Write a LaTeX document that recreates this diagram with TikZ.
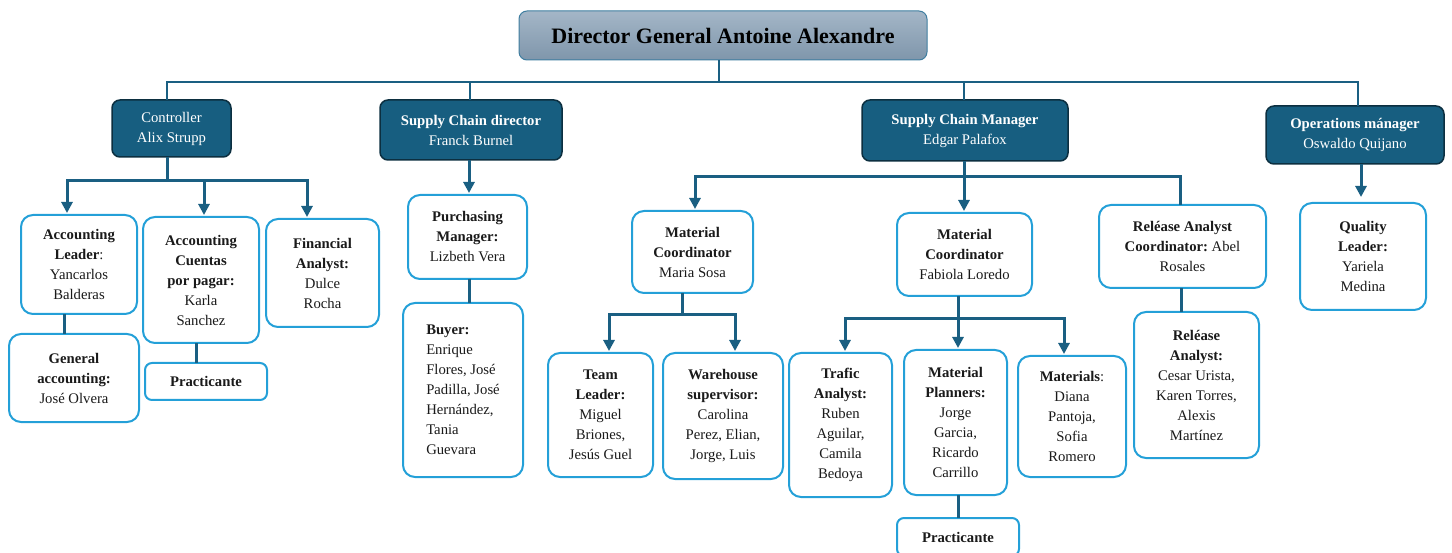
\documentclass[tikz,border=0pt]{standalone}
\usepackage{fontspec}
\setmainfont{Liberation Serif}
\usetikzlibrary{arrows.meta,calc}
\definecolor{conncol}{HTML}{1A5F82}
\definecolor{darkfill}{HTML}{175E80}
\definecolor{darkline}{HTML}{0C2F40}
\definecolor{lightline}{HTML}{24A0D8}
\definecolor{dirtop}{HTML}{A4B6C7}
\definecolor{dirbot}{HTML}{7F96AB}
\definecolor{dirline}{HTML}{3F7EA0}
\definecolor{txt}{HTML}{1A1A1A}
\frenchspacing
\begin{document}
\begin{tikzpicture}[x=1pt,y=-1pt,
  every node/.style={inner sep=0pt, outer sep=0pt},
  box/.style={draw=lightline, line width=2pt, rounded corners=12pt, fill=white, align=center, text=txt, font=\fontsize{14.7}{20}\selectfont},
  dbox/.style={draw=darkline, line width=1.5pt, rounded corners=8pt, fill=darkfill, align=center, text=white, font=\fontsize{14.7}{20}\selectfont},
  dirbox/.style={draw=dirline, line width=1pt, rounded corners=8pt, top color=dirtop, bottom color=dirbot, align=center, text=black, font=\fontsize{22}{26}\selectfont\bfseries},
  conn/.style={draw=conncol, line width=3pt},
  topconn/.style={draw=conncol, line width=2.2pt},
  arr/.style={conn, -{Triangle[width=11pt,length=11pt]}, shorten >=2pt},
]
\useasboundingbox (0,0) rectangle (1452,553);
\clip (0,0) rectangle (1452,553);

% ---------- nodes ----------
\node[dirbox, minimum width=408pt, minimum height=49pt] (dir) at (723,35.5) {Director General Antoine Alexandre};

\node[dbox, minimum width=119pt, minimum height=57pt] (ctrl) at (171.5,128.5) {Controller\\Alix Strupp};
\node[dbox, minimum width=182pt, minimum height=60pt] (scd) at (471,130) {\textbf{Supply Chain director}\\Franck Burnel};
\node[dbox, minimum width=206pt, minimum height=61pt] (scm) at (965,130.5) {\textbf{Supply Chain Manager}\\Edgar Palafox};
\node[dbox, minimum width=178pt, minimum height=58pt] (ops) at (1355,135) {\textbf{Operations mánager}\\Oswaldo Quijano};

\node[box, minimum width=116pt, minimum height=99pt] (al) at (79,264.5) {\textbf{Accounting}\\\textbf{Leader}:\\Yancarlos\\Balderas};
\node[box, minimum width=116pt, minimum height=126pt] (acp) at (201,280) {\textbf{Accounting}\\\textbf{Cuentas}\\\textbf{por pagar:}\\Karla\\Sanchez};
\node[box, minimum width=113pt, minimum height=108pt] (fa) at (322.5,273) {\textbf{Financial}\\\textbf{Analyst:}\\Dulce\\Rocha};
\node[box, minimum width=130pt, minimum height=88pt] (ga) at (74,378) {\textbf{General}\\\textbf{accounting:}\\José Olvera};
\node[box, rounded corners=7pt, minimum width=122pt, minimum height=37pt] (pr1) at (206,381.5) {\textbf{Practicante}};

\node[box, minimum width=119pt, minimum height=84pt] (pm) at (467.5,237) {\textbf{Purchasing}\\\textbf{Manager:}\\Lizbeth Vera};
\node[box, align=left, minimum width=120pt, minimum height=174pt] (buy) at (463,390) {\textbf{Buyer:}\\Enrique\\Flores, José\\Padilla, José\\Hernández,\\Tania\\Guevara};

\node[box, minimum width=121pt, minimum height=82pt] (ms) at (692.5,252) {\textbf{Material}\\\textbf{Coordinator}\\Maria Sosa};
\node[box, minimum width=105pt, minimum height=124pt] (tl) at (600.5,415) {\textbf{Team}\\\textbf{Leader:}\\Miguel\\Briones,\\Jesús Guel};
\node[box, minimum width=120pt, minimum height=126pt] (ws) at (723,416) {\textbf{Warehouse}\\\textbf{supervisor:}\\Carolina\\Perez, Elian,\\Jorge, Luis};

\node[box, minimum width=135pt, minimum height=83pt] (fl) at (964.5,254.5) {\textbf{Material}\\\textbf{Coordinator}\\Fabiola Loredo};
\node[box, minimum width=103pt, minimum height=144pt] (ta) at (840.5,425) {\textbf{Trafic}\\\textbf{Analyst:}\\Ruben\\Aguilar,\\Camila\\Bedoya};
\node[box, minimum width=103pt, minimum height=145pt] (mp) at (955.5,422.5) {\textbf{Material}\\\textbf{Planners:}\\Jorge\\Garcia,\\Ricardo\\Carrillo};
\node[box, minimum width=108pt, minimum height=121pt] (mat) at (1072,416.5) {\textbf{Materials}:\\Diana\\Pantoja,\\Sofia\\Romero};
\node[box, rounded corners=7pt, minimum width=122pt, minimum height=38pt] (pr2) at (958,537) {\textbf{Practicante}};

\node[box, minimum width=167pt, minimum height=83pt] (rac) at (1182.5,246.5) {\textbf{Reléase Analyst}\\\textbf{Coordinator:} Abel\\Rosales};
\node[box, minimum width=125pt, minimum height=146pt] (ra) at (1196.5,385) {\textbf{Reléase}\\\textbf{Analyst:}\\Cesar Urista,\\Karen Torres,\\Alexis\\Martínez};

\node[box, minimum width=126pt, minimum height=107pt] (ql) at (1363,256.5) {\textbf{Quality}\\\textbf{Leader:}\\Yariela\\Medina};

% ---------- connectors ----------
% top level bus
\draw[topconn] ($(ctrl.north)+(-4.5,0)$) -- ++(0,-18) -| ($(ops.north)+(3,0)$);
\draw[topconn] ($(dir.south)+(-4,0)$) -- ++(0,22);
\draw[topconn] ($(scd.north)+(-1,0)$) -- ++(0,-18);
\draw[topconn] ($(scm.north)+(-1,0)$) -- ++(0,-18);

% controller
\draw[conn] ($(ctrl.south)+(-4.5,0)$) -- ++(0,24) coordinate (cj);
\draw[arr] (cj) -| ($(al.north)+(-12,0)$);
\draw[arr] (cj) -| ($(acp.north)+(3,0)$);
\draw[arr] (cj) -| ($(fa.north)+(-15.5,0)$);
\coordinate (gaT) at ($(ga.north)+(-10,0)$);
\draw[conn] (gaT) -- (gaT |- al.south);
\coordinate (p1T) at ($(pr1.north)+(-10,0)$);
\draw[conn] (p1T) -- (p1T |- acp.south);

% supply chain director
\coordinate (scdB) at ($(scd.south)+(-2,0)$);
\draw[arr] (scdB) -- (scdB |- pm.north);
\coordinate (pmB) at ($(pm.south)+(1.5,0)$);
\draw[conn] (pmB) -- (pmB |- buy.north);

% supply chain manager
\draw[conn] ($(scm.south)+(-1,0)$) -- ++(0,16) coordinate (sj);
\draw[arr] (sj) -| ($(ms.north)+(2.5,0)$);
\draw[conn] (sj) -| ($(rac.north)+(-2.5,0)$);
\draw[arr] (sj) -- (sj |- fl.north);

% Maria Sosa
\draw[conn] ($(ms.south)+(-10.5,0)$) -- ++(0,22) coordinate (mj);
\draw[arr] (mj) -| ($(tl.north)+(8.5,0)$);
\draw[arr] (mj) -| ($(ws.north)+(12,0)$);

% Fabiola Loredo
\draw[conn] ($(fl.south)+(-6.5,0)$) -- ++(0,23) coordinate (fj);
\draw[arr] (fj) -| ($(ta.north)+(4.5,0)$);
\draw[arr] (fj) -- (fj |- mp.north);
\draw[arr] (fj) -| ($(mat.north)+(-8,0)$);
\draw[conn] (pr2.north) -- (pr2.north |- mp.south);

% release
\coordinate (racB) at ($(rac.south)+(-1.5,0)$);
\draw[conn] (racB) -- (racB |- ra.north);

% operations
\coordinate (opsB) at ($(ops.south)+(6,0)$);
\draw[arr, shorten >=6pt] (opsB) -- (opsB |- ql.north);
\end{tikzpicture}
\end{document}
